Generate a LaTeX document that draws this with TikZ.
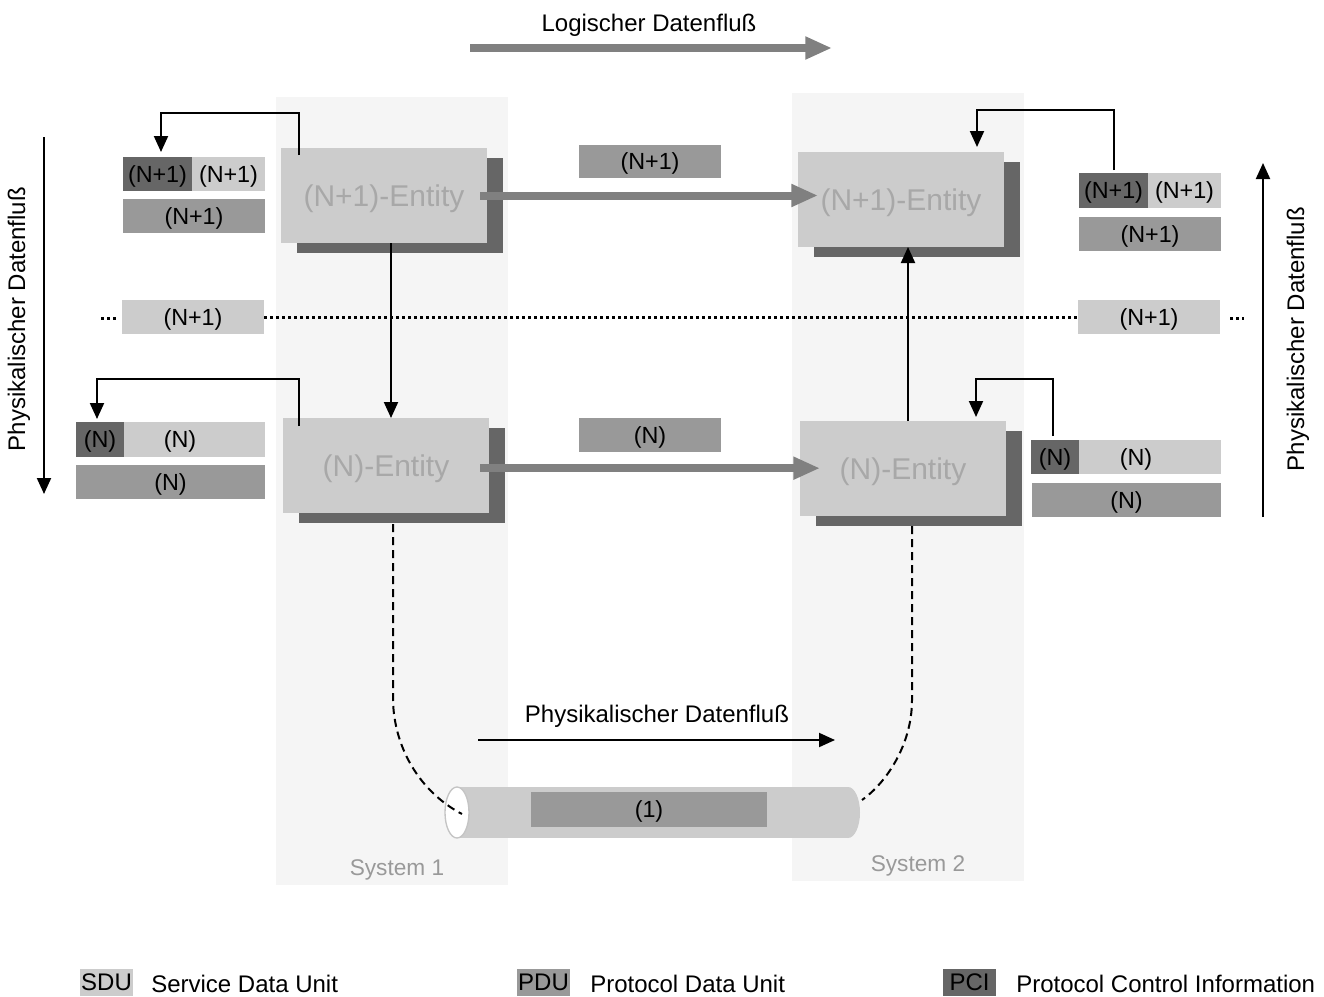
\documentclass[tikz,border=0pt]{standalone}
\usepackage{fontspec}
\setmainfont{Liberation Sans}
\usetikzlibrary{arrows.meta,calc,shadows}

\definecolor{sduc}{HTML}{CCCCCC}
\definecolor{pduc}{HTML}{999999}
\definecolor{pcic}{HTML}{666666}
\definecolor{entc}{HTML}{CCCCCC}
\definecolor{shadc}{HTML}{666666}
\definecolor{enttext}{HTML}{A8A8A8}
\definecolor{sysbg}{HTML}{F5F5F5}
\definecolor{systext}{HTML}{999999}
\definecolor{garrow}{HTML}{808080}
\definecolor{cylrim}{HTML}{C4C4C4}

\newcommand\labfont{\fontsize{17.5}{20}\selectfont}
\newcommand\flowfont{\fontsize{18}{21}\selectfont}
\newcommand\entfont{\fontsize{22.5}{26}\selectfont}
\newcommand\sysfont{\fontsize{17}{20}\selectfont}

\tikzset{
  sz/.style 2 args={minimum width=#1*0.75pt, minimum height=#2*0.75pt},
  cell/.style={rectangle, inner sep=0pt, outer sep=0pt, font=\labfont, text=black,
    text height=13pt, text depth=0.8pt},
  pci/.style={cell, fill=pcic},
  sdu/.style={cell, fill=sduc},
  pdu/.style={cell, fill=pduc},
  entity/.style={rectangle, inner sep=0pt, outer sep=0pt, fill=entc, text=enttext,
    font=\entfont, sz={206}{95}, text height=17pt, text depth=0.6pt,
    drop shadow={shadow xshift=12pt, shadow yshift=-7.5pt, fill=shadc, opacity=1}},
  sysarea/.style={rectangle, inner sep=0pt, fill=sysbg},
  syslabel/.style={font=\sysfont, text=systext, inner sep=0pt},
  flowlabel/.style={font=\flowfont, inner sep=0pt},
  gbar/.style={draw=garrow, line width=6pt, -{Triangle[length=20pt, width=16pt]}},
  blk/.style={draw=black, line width=1.5pt, -{Triangle[length=12pt, width=10.5pt]}},
  elbow/.style={blk, rounded corners=0pt},
  dotline/.style={draw=black, line width=2.25pt, dash pattern=on 2.25pt off 2.25pt},
  cabledash/.style={draw=black, line width=1.5pt, dash pattern=on 6pt off 3.75pt},
}

\begin{document}
\begin{tikzpicture}[x=0.75pt, y=-0.75pt]
\useasboundingbox (0,0) rectangle (1324,996);

% the two end systems
\node[sysarea, sz={232}{788}] (sys1) at (392,491) {};
\node[sysarea, sz={232}{788}] (sys2) at (908,487) {};
\node[syslabel] (sys1t) at (397,870) {System 1};
\node[syslabel] (sys2t) at (918,866) {System 2};

% logical data flow
\coordinate (lgs) at (470,48);
\coordinate (lge) at (832,48);
\draw[gbar] (lgs) -- (lge);
\node[flowlabel] (lgt) at (649,25) {Logischer Datenfluß};

% service boundary between layer N+1 and layer N
\node[sdu, sz={142}{34}] (dsdu1) at (193,317) {(N+1)};
\node[sdu, sz={142}{34}] (dsdu2) at (1149,317) {(N+1)};
\coordinate (dotL) at (101,318);
\coordinate (dotL2) at (117,318);
\coordinate (dotR) at (1230,318);
\coordinate (dotR2) at (1244,318);
\draw[dotline] (dotL) -- (dotL2);
\draw[dotline] (dsdu1.east) -- (dsdu2.west);
\draw[dotline] (dotR) -- (dotR2);

% ends of the links to the medium
\coordinate (cableL) at (462,814);
\coordinate (cableR) at (862,800);

% entities
\node[entity] (e1) at (384,195.5) {(N+1)-Entity};
\node[entity] (e2) at (901,199.5) {(N+1)-Entity};
\node[entity] (e3) at (386,465.5) {(N)-Entity};
\node[entity] (e4) at (903,468.5) {(N)-Entity};

% data units, system 1
\node[pci, sz={69}{34}] (pci1) at (157.5,174) {(N+1)};
\node[sdu, sz={73}{34}] (sdu1) at (228.5,174) {(N+1)};
\node[pdu, sz={142}{34}] (pdu1) at (194,216) {(N+1)};
\node[pci, sz={48}{35}] (pci2) at (100,439.5) {(N)};
\node[sdu, sz={141}{35}] (sdu2) at (194.5,439.5) {};
\node[cell] (sdu2t) at (180,439.5) {(N)};
\node[pdu, sz={189}{34}] (pdu2) at (170.5,482) {(N)};

% data units, system 2
\node[pci, sz={69}{35}] (pci3) at (1113.5,190.5) {(N+1)};
\node[sdu, sz={73}{35}] (sdu3) at (1184.5,190.5) {(N+1)};
\node[pdu, sz={142}{34}] (pdu3) at (1150,234) {(N+1)};
\node[pci, sz={48}{34}] (pci4) at (1055,457) {(N)};
\node[sdu, sz={142}{34}] (sdu4) at (1150,457) {};
\node[cell] (sdu4t) at (1136,457) {(N)};
\node[pdu, sz={189}{34}] (pdu4) at (1126.5,500) {(N)};

% protocol data units exchanged between peers
\node[pdu, sz={142}{33}] (mpdu1) at (650,161.5) {(N+1)};
\node[pdu, sz={142}{34}] (mpdu2) at (650,435) {(N)};

% peer-to-peer (logical) arrows
\draw[gbar] ([xshift=-5.25pt]e1.east) -- ([xshift=15pt]e1.east -| e2.west);
\draw[gbar] ([xshift=-6.75pt,yshift=-2pt]e3.east) -- ([xshift=15pt,yshift=-2pt]e3.east -| e4.west);

% vertical service arrows
\draw[blk] ([xshift=5.25pt]e1.south) -- ([xshift=5.25pt]e1.south |- e3.north);
\draw[blk] ([xshift=3.75pt]e4.north) -- ([xshift=3.75pt]e4.north |- e2.south);

% encapsulation / decapsulation arrows
\draw[elbow] ($(e1.north west)+(18,7)$) -- ++(0,-42) -| ($(pci1.north)+(3.5,-5)$);
\draw[elbow] ($(e3.north west)+(16,8)$) -- ++(0,-47) -| ($(pci2.north)+(-3,-3)$);
\draw[elbow] ($(pci3.north)+(0,-3)$) -- ++(0,-60) -| ($(e2.north)+(76,-5)$);
\draw[elbow] ($(pci4.north)+(-2,-4)$) -- ++(0,-57) -| ($(e4.north)+(73,-4)$);

% physical medium
\fill[sduc] (457,787) rectangle (848,838);
\fill[sduc] (848,812.5) ellipse [x radius=12, y radius=25.5];
\filldraw[fill=white, draw=cylrim, line width=1pt] (457,812.5) ellipse [x radius=12, y radius=25.5];
\node[pdu, sz={236}{35}] (phys) at (649,809.5) {(1)};

\draw[cabledash] ($(e3.south)+(7,11)$) -- (393,700) .. controls (394,748) and (420,792) .. (cableL);
\draw[cabledash] ($(e4.south)+(9,10)$) -- (912,700) .. controls (912,745) and (886,783) .. (cableR);

% physical data flow
\coordinate (pfs) at (478,740);
\coordinate (pfe) at (835,740);
\draw[blk] (pfs) -- (pfe);
\node[flowlabel] (pft) at (657,716) {Physikalischer Datenfluß};

\coordinate (lfs) at (44,137);
\coordinate (lfe) at (44,494);
\draw[blk] (lfs) -- (lfe);
\node[flowlabel, rotate=90] (lft) at (19,319) {Physikalischer Datenfluß};

\coordinate (rfs) at (1263,517);
\coordinate (rfe) at (1263,163);
\draw[blk] (rfs) -- (rfe);
\node[flowlabel, rotate=90] (rft) at (1298,339) {Physikalischer Datenfluß};

% legend
\node[sdu, sz={53}{27}, font=\flowfont] (lgsdu) at (106.5,982.5) {SDU};
\node[flowlabel, anchor=west] (lgsdut) at (151,984) {Service Data Unit};
\node[pdu, sz={53}{27}, font=\flowfont] (lgpdu) at (543.5,982.5) {PDU};
\node[flowlabel, anchor=west] (lgpdut) at (590,984) {Protocol Data Unit};
\node[pci, sz={53}{27}, font=\flowfont] (lgpci) at (969.5,982.5) {PCI};
\node[flowlabel, anchor=west] (lgpcit) at (1016,984) {Protocol Control Information};
\end{tikzpicture}
\end{document}
